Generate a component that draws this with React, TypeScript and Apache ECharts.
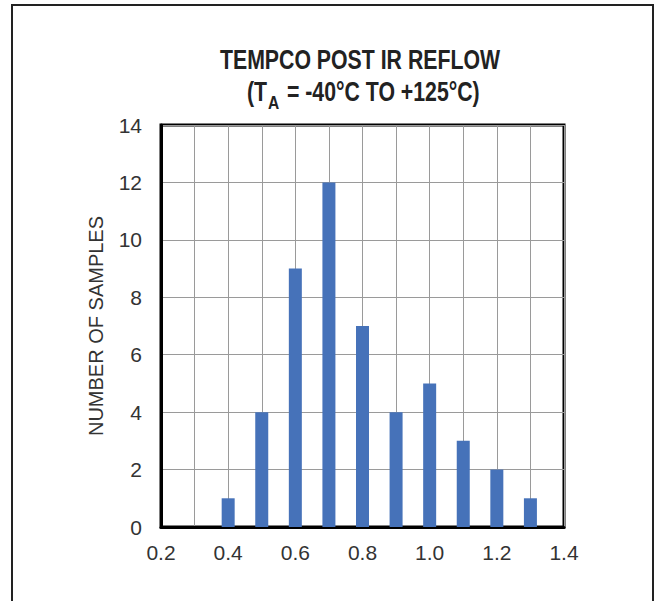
import React, { useEffect, useRef } from "react";
import * as echarts from "echarts";

const binCenters = [0.4, 0.5, 0.6, 0.7, 0.8, 0.9, 1.0, 1.1, 1.2, 1.3];
const sampleCounts = [1, 4, 9, 12, 7, 4, 5, 3, 2, 1];
const titleLine1 = "TEMPCO POST IR REFLOW";
const titleLine2Parts = ["(T", "A", " = -40°C TO +125°C)"];
const yAxisName = "NUMBER OF SAMPLES";

const SANS = "'Liberation Sans', Arial, sans-serif";

export default function App() {
  const ref = useRef<HTMLDivElement>(null);
  useEffect(() => {
    if (!ref.current) return;
    const chart = echarts.init(ref.current, null, { renderer: "svg" });
    const data = binCenters.map((x, i) => [x, sampleCounts[i]]);
    const titleStyle = (text: string, align: string, size: number) => ({
      text,
      align,
      verticalAlign: "middle",
      font: `bold ${size}px ${SANS}`,
      fill: "#222",
    });
    chart.setOption({
      animation: false,
      backgroundColor: "#fff",
      grid: {
        left: 161,
        right: 92,
        top: 125,
        bottom: 74,
        show: true,
        borderColor: "#000",
        borderWidth: 3,
        backgroundColor: "transparent",
      },
      xAxis: {
        type: "value",
        min: 0.2,
        max: 1.4,
        interval: 0.1,
        axisLine: { show: true, lineStyle: { color: "#000", width: 3 } },
        axisTick: { show: false },
        splitLine: { show: true, lineStyle: { color: "#9a9a9a", width: 1 } },
        axisLabel: {
          color: "#333",
          fontFamily: SANS,
          fontSize: 21,
          margin: 15,
          formatter: (v: number) => {
            const k = Math.round(v * 10);
            return k % 2 === 0 ? (k / 10).toFixed(1) : "";
          },
        },
      },
      yAxis: {
        type: "value",
        min: 0,
        max: 14,
        interval: 2,
        name: yAxisName,
        nameLocation: "middle",
        nameGap: 55,
        nameTextStyle: { color: "#333", fontFamily: SANS, fontSize: 20 },
        axisLine: { show: true, lineStyle: { color: "#000", width: 3 } },
        axisTick: { show: false },
        splitLine: { show: true, lineStyle: { color: "#9a9a9a", width: 1 } },
        axisLabel: { color: "#333", fontFamily: SANS, fontSize: 21, margin: 19 },
      },
      series: [
        {
          type: "bar",
          data,
          barWidth: 13,
          itemStyle: { color: "#4672B9" },
        },
      ],
      graphic: [
        {
          type: "rect",
          shape: { x: 12, y: 5, width: 641, height: 620 },
          style: { fill: "none", stroke: "#222", lineWidth: 2 },
          silent: true,
        },
        {
          type: "text",
          x: 360,
          y: 59,
          scaleX: 0.76,
          style: titleStyle(titleLine1, "center", 28),
        },
        {
          type: "text",
          x: 267,
          y: 91,
          scaleX: 0.76,
          style: titleStyle(titleLine2Parts[0], "right", 28),
        },
        {
          type: "text",
          x: 268,
          y: 102,
          scaleX: 0.82,
          style: titleStyle(titleLine2Parts[1], "left", 19),
        },
        {
          type: "text",
          x: 281,
          y: 91,
          scaleX: 0.76,
          style: titleStyle(titleLine2Parts[2], "left", 28),
        },
      ],
    });
    return () => chart.dispose();
  }, []);
  return (
    <div
      ref={ref}
      style={{ position: "absolute", left: 0, top: 0, width: 656, height: 601 }}
    />
  );
}
